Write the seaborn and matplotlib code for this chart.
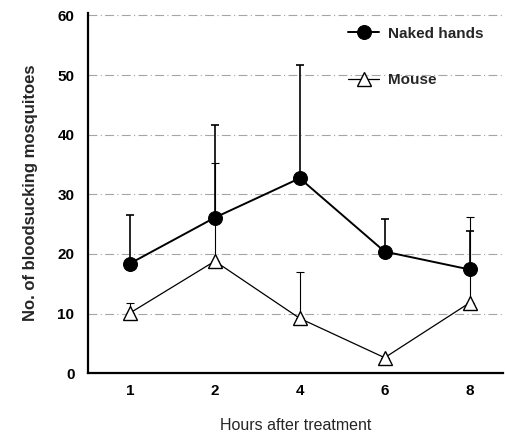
import matplotlib
matplotlib.use("Agg")
import matplotlib.pyplot as plt
import seaborn as sns
import pandas as pd
import numpy as np

hours = ["1", "2", "4", "6", "8"]
naked_mean = [18.4, 26.1, 32.7, 20.4, 17.4]
naked_upper = [26.5, 41.7, 51.7, 25.9, 23.8]
mouse_mean = [10.1, 18.8, 9.2, 2.6, 11.8]
mouse_upper = [11.8, 35.2, 17.0, 2.6, 26.2]
yticks = [0, 10, 20, 30, 40, 50, 60]

sns.set_theme(style="white")
plt.rcParams['font.family'] = ['Liberation Sans', 'DejaVu Sans']

pos = np.arange(len(hours))
df = pd.DataFrame({
    "pos": np.concatenate([pos, pos]),
    "value": naked_mean + mouse_mean,
    "group": ["Naked hands"] * len(hours) + ["Mouse"] * len(hours),
})

fig = plt.figure(figsize=(5.05, 4.36), dpi=100)
ax = fig.add_axes([0.175, 0.144, 0.822, 0.826])

for y in yticks[1:]:
    ax.axhline(y, color="#a5a5a5", lw=0.8, ls=(0, (8, 3, 1, 3)), zorder=0)

# error bars (upper only)
ax.errorbar(pos, naked_mean, yerr=[np.zeros(len(hours)), np.array(naked_upper) - np.array(naked_mean)],
            fmt="none", ecolor="black", elinewidth=1.2, capsize=3, capthick=1.2, zorder=2)
ax.errorbar(pos, mouse_mean, yerr=[np.zeros(len(hours)), np.array(mouse_upper) - np.array(mouse_mean)],
            fmt="none", ecolor="black", elinewidth=0.8, capsize=3, capthick=0.8, zorder=2)

sns.lineplot(data=df[df.group == "Naked hands"], x="pos", y="value", ax=ax,
             color="black", lw=1.4, marker="o", markersize=10, markerfacecolor="black",
             markeredgecolor="black", label="Naked hands", zorder=4)
sns.lineplot(data=df[df.group == "Mouse"], x="pos", y="value", ax=ax,
             color="black", lw=0.9, marker="^", markersize=10, markerfacecolor="white",
             markeredgecolor="black", markeredgewidth=1.0, label="Mouse", zorder=3)

ax.set_xlim(-0.49, 4.4)
ax.set_ylim(0, 60.4)
ax.set_xticks(pos)
ax.set_xticklabels(hours)
ax.set_yticks(yticks)
ax.tick_params(axis="both", direction="in", length=4, width=1, colors="black", labelsize=11)
ax.tick_params(axis="y", pad=10)
ax.tick_params(axis="x", pad=8)
for lab in ax.get_xticklabels() + ax.get_yticklabels():
    lab.set_fontweight("bold")

for s in ["top", "right"]:
    ax.spines[s].set_visible(False)
for s in ["left", "bottom"]:
    ax.spines[s].set_color("black")
    ax.spines[s].set_linewidth(1.6)

ax.set_ylabel("No. of bloodsucking mosquitoes", fontsize=12, fontweight="bold", labelpad=14)
ax.set_xlabel("Hours after treatment", fontsize=11.5, labelpad=14)

leg = ax.legend(loc="upper right", bbox_to_anchor=(0.985, 1.0), frameon=False,
                prop={"size": 11, "weight": "bold"}, handlelength=2.0,
                labelspacing=2.1, handletextpad=0.6)

fig.savefig("out.png", dpi=100)
